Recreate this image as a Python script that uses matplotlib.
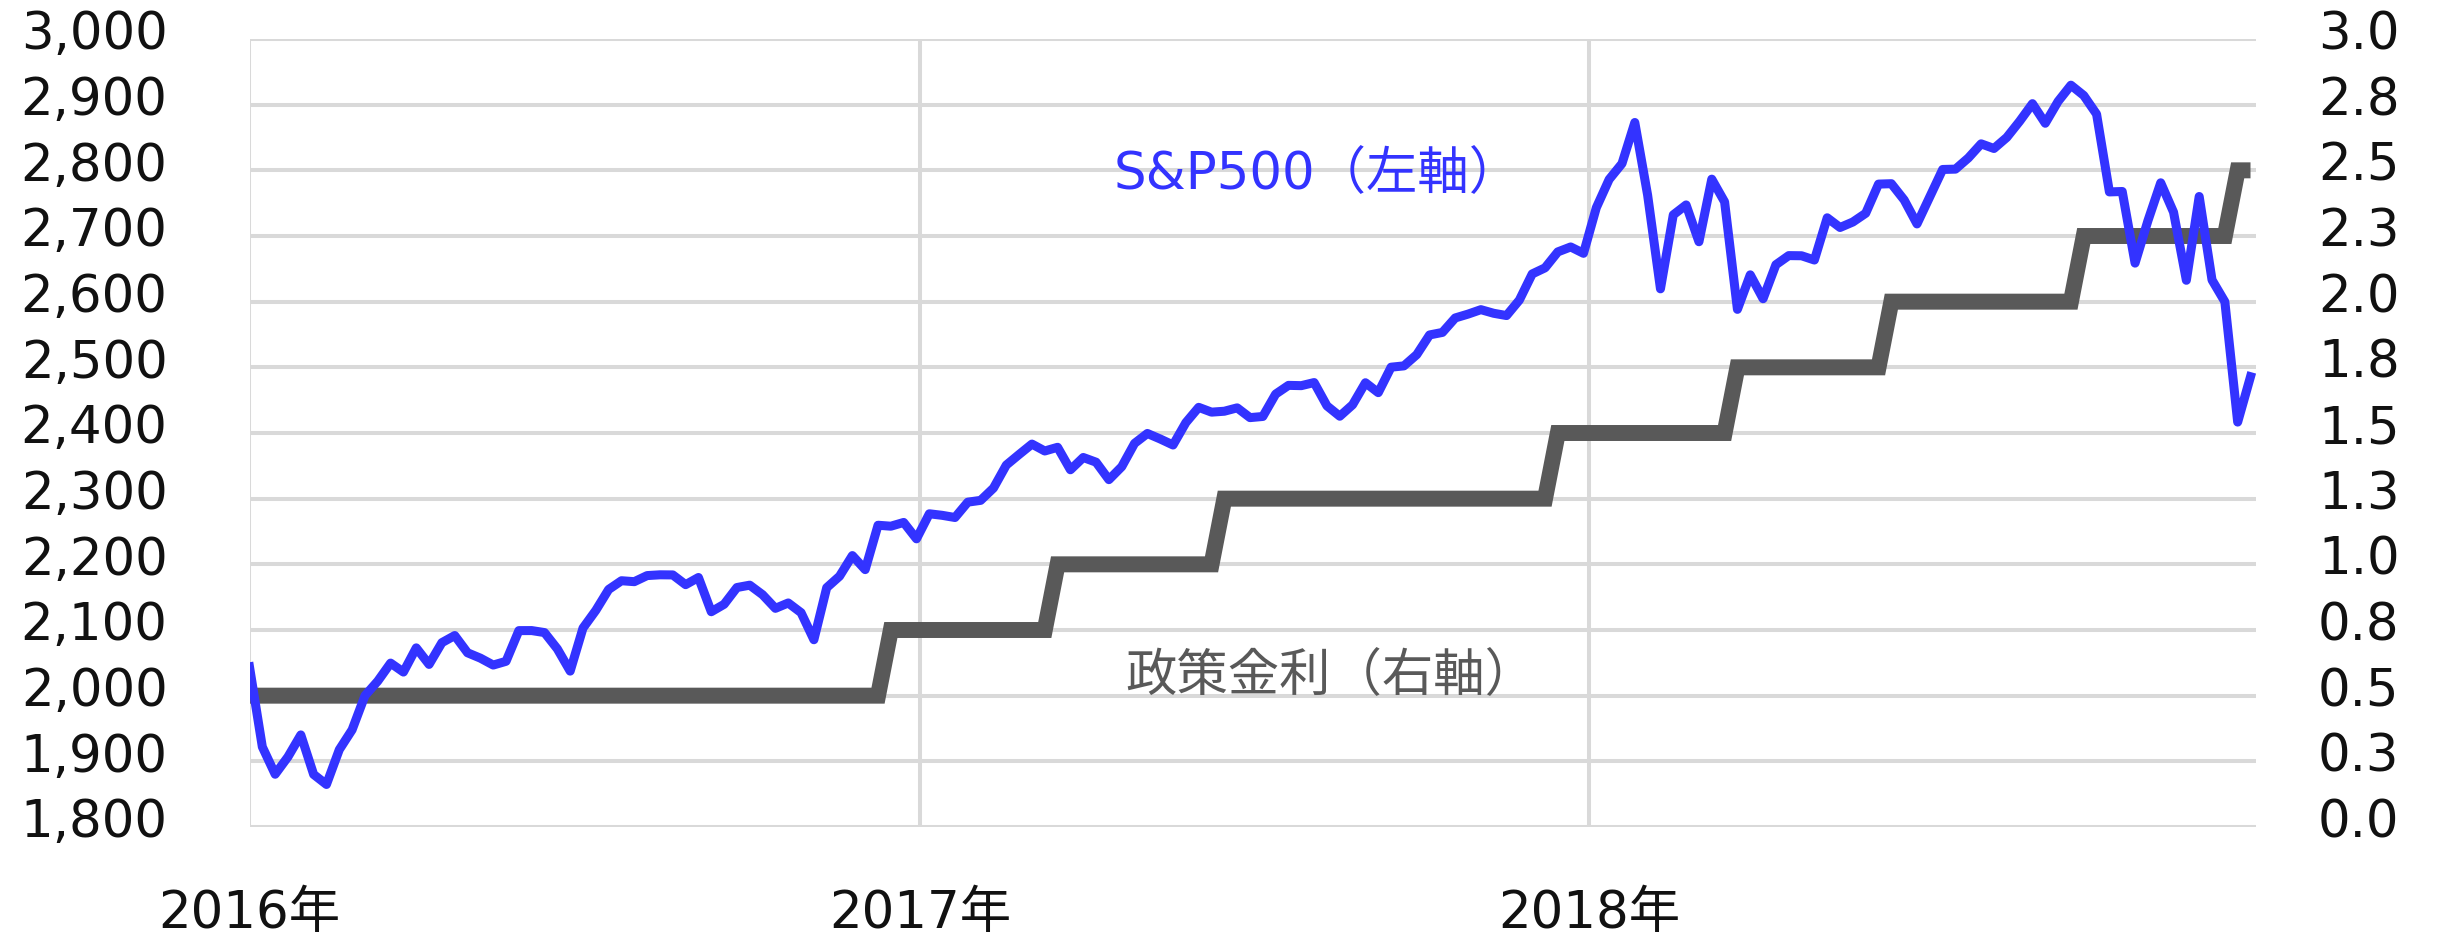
import matplotlib
matplotlib.use('Agg')
import matplotlib.pyplot as plt
import matplotlib.transforms as mtransforms
import pandas as pd

plt.rcParams['font.family'] = ['DejaVu Sans', 'Noto Sans CJK JP']

# ---------------- data ----------------
week_start = '2016-01-01'
week_end = '2018-12-28'

sp500 = [
    # 2016
    2043.94, 1922.03, 1880.33, 1906.90, 1940.24, 1880.05, 1864.78, 1917.78, 1948.05,
    1999.99, 2022.19, 2049.58, 2035.94, 2072.78, 2047.60, 2080.73, 2091.58, 2065.30,
    2057.14, 2046.61, 2052.32, 2099.06, 2099.13, 2096.07, 2071.22, 2037.41, 2102.95,
    2129.90, 2161.74, 2175.03, 2173.60, 2182.87, 2184.05, 2183.87, 2169.04, 2179.98,
    2127.81, 2139.16, 2164.69, 2168.27, 2153.74, 2132.98, 2141.16, 2126.41, 2085.18,
    2164.45, 2181.90, 2213.35, 2191.95, 2259.53, 2258.07, 2263.79, 2238.83,
    # 2017
    2276.98, 2274.64, 2271.31, 2294.69, 2297.42, 2316.10, 2351.16, 2367.34, 2383.12,
    2372.60, 2378.25, 2343.98, 2362.72, 2355.54, 2328.95, 2348.69, 2384.20, 2399.29,
    2390.90, 2381.73, 2415.82, 2439.07, 2431.77, 2433.15, 2438.30, 2423.41, 2425.18,
    2459.27, 2472.54, 2472.10, 2476.83, 2441.32, 2425.55, 2443.05, 2476.55, 2461.43,
    2500.23, 2502.22, 2519.36, 2549.33, 2553.17, 2575.21, 2581.07, 2587.84, 2582.30,
    2578.85, 2602.42, 2642.22, 2651.50, 2675.81, 2683.34, 2673.61,
    # 2018
    2743.15, 2786.24, 2810.30, 2872.87, 2762.13, 2619.55, 2732.22, 2747.30, 2691.25,
    2786.57, 2752.01, 2588.26, 2640.87, 2604.47, 2656.30, 2670.14, 2669.91, 2663.42,
    2727.72, 2712.97, 2721.33, 2734.62, 2779.03, 2779.66, 2754.88, 2718.37, 2759.82,
    2801.31, 2801.83, 2818.82, 2840.35, 2833.28, 2850.13, 2874.69, 2901.52, 2871.68,
    2904.98, 2929.67, 2913.98, 2885.57, 2767.13, 2767.78, 2658.69, 2723.06, 2781.01,
    2736.27, 2632.56, 2760.17, 2633.08, 2599.95, 2416.62, 2485.74,
]

policy_rate = [
    # 2016
    0.50, 0.50, 0.50, 0.50, 0.50, 0.50, 0.50, 0.50, 0.50, 0.50,
    0.50, 0.50, 0.50, 0.50, 0.50, 0.50, 0.50, 0.50, 0.50, 0.50,
    0.50, 0.50, 0.50, 0.50, 0.50, 0.50, 0.50, 0.50, 0.50, 0.50,
    0.50, 0.50, 0.50, 0.50, 0.50, 0.50, 0.50, 0.50, 0.50, 0.50,
    0.50, 0.50, 0.50, 0.50, 0.50, 0.50, 0.50, 0.50, 0.50, 0.50,
    0.75, 0.75, 0.75,
    # 2017
    0.75, 0.75, 0.75, 0.75, 0.75, 0.75, 0.75, 0.75, 0.75, 0.75,
    1.00, 1.00, 1.00, 1.00, 1.00, 1.00, 1.00, 1.00, 1.00, 1.00, 1.00, 1.00, 1.00,
    1.25, 1.25, 1.25, 1.25, 1.25, 1.25, 1.25, 1.25, 1.25, 1.25, 1.25, 1.25, 1.25,
    1.25, 1.25, 1.25, 1.25, 1.25, 1.25, 1.25, 1.25, 1.25, 1.25, 1.25, 1.25, 1.25,
    1.50, 1.50, 1.50,
    # 2018
    1.50, 1.50, 1.50, 1.50, 1.50, 1.50, 1.50, 1.50, 1.50, 1.50, 1.50,
    1.75, 1.75, 1.75, 1.75, 1.75, 1.75, 1.75, 1.75, 1.75, 1.75, 1.75, 1.75,
    2.00, 2.00, 2.00, 2.00, 2.00, 2.00, 2.00, 2.00, 2.00, 2.00, 2.00, 2.00, 2.00,
    2.00, 2.00,
    2.25, 2.25, 2.25, 2.25, 2.25, 2.25, 2.25, 2.25, 2.25, 2.25, 2.25, 2.25,
    2.50, 2.50,
]

left_ticks = [1800, 1900, 2000, 2100, 2200, 2300, 2400, 2500, 2600, 2700, 2800, 2900, 3000]
left_labels = ['1,800', '1,900', '2,000', '2,100', '2,200', '2,300', '2,400',
               '2,500', '2,600', '2,700', '2,800', '2,900', '3,000']
right_ticks = [0.0, 0.25, 0.5, 0.75, 1.0, 1.25, 1.5, 1.75, 2.0, 2.25, 2.5, 2.75, 3.0]
right_labels = ['0.0', '0.3', '0.5', '0.8', '1.0', '1.3', '1.5', '1.8', '2.0',
                '2.3', '2.5', '2.8', '3.0']
year_ticks = ['2016-01-01', '2017-01-01', '2018-01-01']
year_labels = ['2016年', '2017年', '2018年']
x_range = ['2016-01-01', '2018-12-31']

sp_label = 'S&P500（左軸）'
rate_label = '政策金利（右軸）'

# ---------------- figure ----------------
W, H = 2438, 941
dpi = 100
fig = plt.figure(figsize=(W / dpi, H / dpi), dpi=dpi)
fig.patch.set_facecolor('white')

left_px, right_px, top_px, bottom_px = 249.5, 2256, 39, 827
ax_rate = fig.add_axes([left_px / W, 1 - bottom_px / H,
                        (right_px - left_px) / W, (bottom_px - top_px) / H])
ax_sp = ax_rate.twinx()

dates = pd.date_range(week_start, week_end, freq='7D')

grid_color = '#d9d9d9'
blue = '#3333ff'
gray = '#595959'

# policy rate (bottom axes, carries grid)
ax_rate.plot(dates, policy_rate, color=gray, lw=11.5, solid_joinstyle='miter',
             solid_capstyle='butt', zorder=3)
ax_rate.set_ylim(0, 3.0)
ax_rate.set_yticks(right_ticks)
ax_rate.set_yticklabels(right_labels)
ax_rate.yaxis.tick_right()
ax_rate.set_axisbelow(True)
ax_rate.grid(True, color=grid_color, lw=2.9, zorder=0)

# S&P 500 (top axes)
ax_sp.plot(dates, sp500, color=blue, lw=6.5, solid_joinstyle='round', zorder=4)
ax_sp.set_ylim(1800, 3000)
ax_sp.set_yticks(left_ticks)
ax_sp.set_yticklabels(left_labels)
ax_sp.yaxis.tick_left()

ax_rate.set_xlim(pd.Timestamp(x_range[0]), pd.Timestamp(x_range[1]))
ax_rate.set_xticks(pd.to_datetime(year_ticks))
ax_rate.set_xticklabels(year_labels)

for a in (ax_rate, ax_sp):
    for s in a.spines.values():
        s.set_visible(False)
    a.tick_params(length=0, labelsize=37, labelcolor='#111111')

ax_sp.tick_params(axis='y', pad=59)
ax_rate.tick_params(axis='y', pad=44.6)
ax_rate.tick_params(axis='x', pad=45)

# shift y tick labels slightly upward
up = mtransforms.ScaledTranslation(0, 9 / dpi, fig.dpi_scale_trans)
for t in ax_sp.yaxis.get_major_ticks():
    t.label1.set_transform(t.label1.get_transform() + up)
for t in ax_rate.yaxis.get_major_ticks():
    t.label2.set_transform(t.label2.get_transform() + up)

# annotations
ax_sp.text(0.532, 0.827, sp_label, transform=ax_sp.transAxes, ha='center',
           va='center', color=blue, fontsize=37)
ax_sp.text(0.539, 0.190, rate_label, transform=ax_sp.transAxes, ha='center',
           va='center', color=gray, fontsize=37)

fig.savefig('out.png', dpi=dpi, facecolor='white')
